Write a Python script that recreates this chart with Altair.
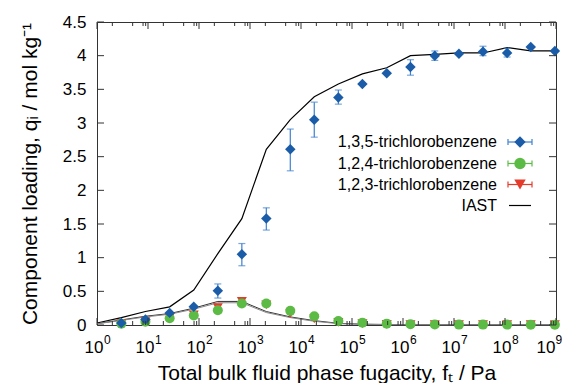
import altair as alt
import pandas as pd

# ---------------- data ----------------
fugacity = [3.0, 8.9, 26.6, 79, 234, 692, 2089, 6166, 1.82e4, 5.4e4, 1.6e5, 4.8e5,
            1.4e6, 4.2e6, 1.25e7, 3.7e7, 1.1e8, 3.2e8, 9.5e8]
q135 = [0.03, 0.08, 0.18, 0.27, 0.51, 1.05, 1.58, 2.61, 3.05, 3.38, 3.58, 3.74,
        3.83, 4.00, 4.03, 4.06, 4.04, 4.13, 4.07]
q135_lo = [0.02, 0.07, 0.17, 0.26, 0.40, 0.88, 1.41, 2.29, 2.79, 3.28, 3.57, 3.73,
           3.71, 3.93, 4.02, 4.00, 3.98, 4.12, 4.06]
q135_hi = [0.04, 0.09, 0.19, 0.28, 0.61, 1.21, 1.74, 2.91, 3.31, 3.49, 3.59, 3.75,
           3.94, 4.07, 4.04, 4.14, 4.11, 4.14, 4.08]
q124 = [0.02, 0.05, 0.10, 0.14, 0.22, 0.32, 0.32, 0.21, 0.13, 0.06, 0.035, 0.02,
        0.012, 0.008, 0.006, 0.006, 0.006, 0.005, 0.005]
q123 = [0.02, 0.05, 0.11, 0.15, 0.26, 0.35, 0.30, 0.17, 0.09, 0.04, 0.02, 0.01,
        0.006, 0.005, 0.005, 0.005, 0.005, 0.005, 0.005]

iast_f = [1, 3.0, 8.9, 26.6, 79, 234, 692, 2089, 6166, 1.82e4, 5.4e4, 1.6e5, 4.8e5,
          1.4e6, 4.2e6, 1.25e7, 3.7e7, 1.1e8, 3.2e8, 1e9]
iast135 = [0.03, 0.11, 0.20, 0.27, 0.52, 1.06, 1.58, 2.61, 3.05, 3.39, 3.58, 3.73,
           3.82, 4.00, 4.02, 4.04, 4.04, 4.12, 4.07, 4.07]
iast124 = [0.02, 0.075, 0.13, 0.17, 0.25, 0.35, 0.35, 0.20, 0.12, 0.065, 0.025, 0.012,
           0.008, 0.006, 0.005, 0.005, 0.005, 0.005, 0.005, 0.005]
iast123 = [0.018, 0.068, 0.12, 0.16, 0.235, 0.33, 0.33, 0.185, 0.11, 0.055, 0.02, 0.01,
           0.006, 0.005, 0.004, 0.004, 0.004, 0.004, 0.004, 0.004]

series_labels = ["1,3,5-trichlorobenzene", "1,2,4-trichlorobenzene",
                 "1,2,3-trichlorobenzene", "IAST"]
x_major = [1, 10, 100, 1e3, 1e4, 1e5, 1e6, 1e7, 1e8, 1e9]
x_exp = ["0", "1", "2", "3", "4", "5", "6", "7", "8", "9"]
x_minor_mult = [2, 5, 8, 9]
y_ticks = [0, 0.5, 1, 1.5, 2, 2.5, 3, 3.5, 4, 4.5]

# ---------------- styling ----------------
W, H = 459, 303
FONT = "Liberation Sans"
BLUE, BLUE_ERR = "#1b5ca8", "#3f80cf"
GREEN = "#5cbb45"
RED = "#e63a2b"
AX = "#333333"

pts = pd.DataFrame({"f": fugacity, "q135": q135, "lo": q135_lo, "hi": q135_hi,
                    "q124": q124, "q123": q123})
iast = pd.DataFrame({"f": iast_f, "a": iast135, "b": iast124, "c": iast123})
ticks_major = pd.DataFrame({"x": x_major, "e": x_exp})
ticks_lab = ticks_major.iloc[:-1]
ticks_last = ticks_major.iloc[-1:]
ticks_minor = pd.DataFrame({"x": [b * m for b in x_major[:-1] for m in x_minor_mult]})
yt = pd.DataFrame({"y": y_ticks})

xs = alt.Scale(type="log", domain=[1, 1e9], nice=False)
ys = alt.Scale(domain=[0, 4.5], nice=False)

XAXIS = alt.Axis(
    labels=False, ticks=False, domain=False, grid=False,
    title="Total bulk fluid phase fugacity, fₜ / Pa", titleFont=FONT,
    titleFontSize=21, titleFontWeight="normal", titleColor="black", titlePadding=37)
YAXIS = alt.Axis(
    values=y_ticks, labelExpr="'' + datum.value", labelOverlap=False,
    ticks=False, tickSize=0, domain=False, grid=False, labelPadding=11,
    labelFont=FONT, labelFontSize=17, labelColor="black",
    title="Component loading, qᵢ / mol kg⁻¹", titleFont=FONT, titleFontSize=21,
    titleFontWeight="normal", titleColor="black", titlePadding=22)


def X(f):
    return alt.X(f, scale=xs, axis=XAXIS)


def Y(f):
    return alt.Y(f, scale=ys, axis=YAXIS)


base = alt.Chart(pts)

l135 = alt.Chart(iast).mark_line(color="black", strokeWidth=1.2).encode(
    x=X("f:Q"), y=Y("a:Q"))
l124 = alt.Chart(iast).mark_line(color="#333333", strokeWidth=1).encode(
    x=X("f:Q"), y=Y("b:Q"))
l123 = alt.Chart(iast).mark_line(color="#888888", strokeWidth=1).encode(
    x=X("f:Q"), y=Y("c:Q"))

red = base.mark_point(shape="triangle-down", filled=True, size=100, color=RED,
                      opacity=1).encode(x=X("f:Q"), y=Y("q123:Q"))
green = base.mark_point(shape="circle", filled=True, size=100, color=GREEN,
                        opacity=1).encode(x=X("f:Q"), y=Y("q124:Q"))
err = base.mark_rule(color=BLUE_ERR, strokeWidth=1.2).encode(
    x=X("f:Q"), y=Y("lo:Q"), y2="hi:Q")
cap_lo = base.mark_tick(color=BLUE_ERR, orient="horizontal", size=7, thickness=1.2).encode(
    x=X("f:Q"), y=Y("lo:Q"))
cap_hi = base.mark_tick(color=BLUE_ERR, orient="horizontal", size=7, thickness=1.2).encode(
    x=X("f:Q"), y=Y("hi:Q"))
blue = base.mark_point(shape="diamond", filled=True, size=110, color=BLUE,
                       opacity=1).encode(x=X("f:Q"), y=Y("q135:Q"))

# inward ticks
tb = alt.Chart(ticks_major).mark_rule(color=AX, strokeWidth=1).encode(
    x=X("x:Q"), y=alt.value(H), y2=alt.value(H - 7))
tt = alt.Chart(ticks_major).mark_rule(color=AX, strokeWidth=1).encode(
    x=X("x:Q"), y=alt.value(0), y2=alt.value(7))
mb = alt.Chart(ticks_minor).mark_rule(color=AX, strokeWidth=1).encode(
    x=X("x:Q"), y=alt.value(H), y2=alt.value(H - 4))
mt = alt.Chart(ticks_minor).mark_rule(color=AX, strokeWidth=1).encode(
    x=X("x:Q"), y=alt.value(0), y2=alt.value(4))
yl = alt.Chart(yt).mark_rule(color=AX, strokeWidth=1).encode(
    y=Y("y:Q"), x=alt.value(0), x2=alt.value(7))
yr = alt.Chart(yt).mark_rule(color=AX, strokeWidth=1).encode(
    y=Y("y:Q"), x=alt.value(W), x2=alt.value(W - 7))

# x tick labels 10^n
lab10 = alt.Chart(ticks_lab).mark_text(text="10", font=FONT, fontSize=17, align="center",
                                       baseline="alphabetic", dx=-3, color="black").encode(
    x=X("x:Q"), y=alt.value(331))
labexp = alt.Chart(ticks_lab).mark_text(font=FONT, fontSize=12, align="left",
                                        baseline="alphabetic", dx=7, color="black").encode(
    x=X("x:Q"), y=alt.value(322), text="e:N")
lab10b = alt.Chart(ticks_last).mark_text(text="10", font=FONT, fontSize=17, align="center",
                                         baseline="alphabetic", dx=-10, color="black").encode(
    x=X("x:Q"), y=alt.value(331))
labexpb = alt.Chart(ticks_last).mark_text(font=FONT, fontSize=12, align="left",
                                          baseline="alphabetic", dx=-0.5, color="black").encode(
    x=X("x:Q"), y=alt.value(322), text="e:N")

# custom legend
leg_layers = []
row_y = [120, 141.5, 162.5, 183.5]
sym = [("diamond", BLUE, BLUE_ERR), ("circle", GREEN, GREEN),
       ("triangle-down", RED, RED)]
for i, lab in enumerate(series_labels):
    d = pd.DataFrame({"t": [lab]})
    yy = row_y[i]
    leg_layers.append(alt.Chart(d).mark_text(font=FONT, fontSize=16, align="right",
                                             baseline="middle", color="black").encode(
        text="t:N", x=alt.value(400), y=alt.value(yy)))
    if i < 3:
        shp, fc, ec = sym[i]
        leg_layers.append(alt.Chart(d).mark_rule(color=ec, strokeWidth=1.2).encode(
            x=alt.value(411), x2=alt.value(435), y=alt.value(yy)))
        leg_layers.append(alt.Chart(d).mark_rule(color=ec, strokeWidth=1.2).encode(
            x=alt.value(411), y=alt.value(yy - 3), y2=alt.value(yy + 3)))
        leg_layers.append(alt.Chart(d).mark_rule(color=ec, strokeWidth=1.2).encode(
            x=alt.value(435), y=alt.value(yy - 3), y2=alt.value(yy + 3)))
        leg_layers.append(alt.Chart(d).mark_point(shape=shp, filled=True, size=130,
                                                  color=fc, opacity=1).encode(
            x=alt.value(423), y=alt.value(yy)))
    else:
        leg_layers.append(alt.Chart(d).mark_rule(color="black", strokeWidth=1.2).encode(
            x=alt.value(412), x2=alt.value(434), y=alt.value(yy)))

chart = alt.layer(
    l135, l124, l123, red, green, err, cap_lo, cap_hi, blue,
    tb, tt, mb, mt, yl, yr, lab10, labexp, lab10b, labexpb, *leg_layers
).properties(
    width=W, height=H,
    padding={"left": 89, "top": 14, "right": 7, "bottom": 60},
    autosize=alt.AutoSizeParams(type="none"),
).configure_view(stroke=AX, strokeWidth=1)

chart.save("out.html", embed_options={"renderer": "svg", "actions": False})
